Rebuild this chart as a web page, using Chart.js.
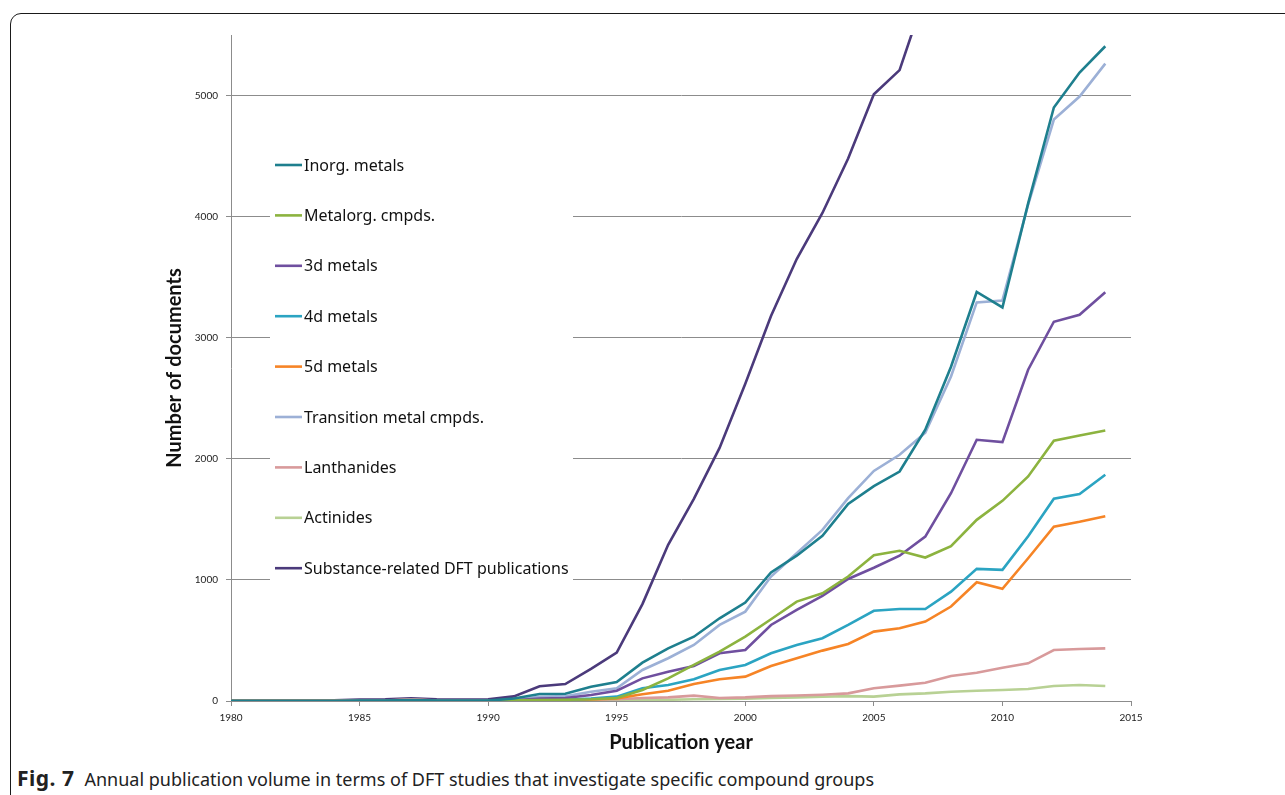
<!DOCTYPE html>
<html>
<head>
<meta charset="utf-8">
<script src="https://cdn.jsdelivr.net/npm/chart.js@4.4.1/dist/chart.umd.min.js"></script>
<style>
  html, body { margin: 0; padding: 0; background: #fff; }
  body { width: 1285px; height: 795px; position: relative; overflow: hidden; }
  #frame {
    position: absolute; left: 10px; top: 13px; width: 1320px; height: 820px;
    border: 1px solid #1a1a1a; border-radius: 11px; box-sizing: border-box;
  }
  #wrap { position: absolute; left: 0; top: 0; width: 1285px; height: 760px; }
  #caption {
    position: absolute; left: 17px; top: 764px; font-family: "Noto Sans", sans-serif;
    font-size: 18px; color: #222; white-space: nowrap;
  }
  #caption b { font-weight: bold; font-size: 21px; margin-right: 10px; letter-spacing: 0.5px; }
</style>
</head>
<body>
<div id="frame"></div>
<div id="wrap"><canvas id="chart"></canvas></div>
<div id="caption"><b>Fig. 7</b>Annual publication volume in terms of DFT studies that investigate specific compound groups</div>
<script>
// publication years 1980..2014
const years = [1980, 1981, 1982, 1983, 1984, 1985, 1986, 1987, 1988, 1989,
  1990, 1991, 1992, 1993, 1994, 1995, 1996, 1997, 1998, 1999,
  2000, 2001, 2002, 2003, 2004, 2005, 2006, 2007, 2008, 2009,
  2010, 2011, 2012, 2013, 2014];

const inorgMetals = [0, 0, 0, 0, 0, 3, 3, 8, 3, 3,
  3, 20, 58, 60, 118, 157, 317, 435, 531, 683,
  813, 1061, 1200, 1364, 1628, 1775, 1895, 2240, 2760, 3378,
  3250, 4110, 4901, 5190, 5407];
const metalorgCmpds = [0, 0, 0, 0, 0, 0, 0, 5, 0, 0,
  0, 5, 8, 10, 15, 25, 91, 187, 298, 408,
  532, 675, 821, 890, 1028, 1204, 1241, 1185, 1278, 1496,
  1653, 1854, 2149, 2193, 2234];
const metals3d = [0, 0, 0, 0, 0, 2, 2, 5, 2, 2,
  2, 5, 20, 25, 50, 85, 187, 242, 289, 394,
  421, 628, 752, 868, 1008, 1100, 1200, 1358, 1716, 2157,
  2138, 2736, 3132, 3190, 3375];
const metals4d = [0, 0, 0, 0, 0, 0, 0, 2, 0, 0,
  0, 3, 8, 10, 20, 36, 105, 132, 179, 256,
  298, 394, 463, 518, 628, 745, 760, 760, 903, 1091,
  1083, 1360, 1670, 1710, 1868];
const metals5d = [0, 0, 0, 0, 0, 0, 0, 2, 0, 0,
  0, 2, 5, 6, 12, 22, 55, 85, 140, 179,
  201, 289, 353, 416, 471, 573, 600, 656, 780, 981,
  926, 1179, 1440, 1480, 1525];
const transitionCmpds = [0, 0, 0, 0, 0, 2, 2, 6, 2, 2,
  2, 10, 35, 40, 77, 105, 256, 353, 463, 628,
  738, 1028, 1220, 1413, 1675, 1900, 2033, 2215, 2680, 3292,
  3308, 4100, 4802, 4992, 5264];
const lanthanides = [0, 0, 0, 0, 0, 2, 3, 15, 4, 3,
  3, 5, 8, 10, 12, 15, 25, 30, 44, 25,
  30, 40, 45, 52, 63, 105, 127, 151, 207, 234,
  275, 311, 421, 430, 435];
const actinides = [0, 0, 0, 0, 0, 2, 3, 10, 3, 2,
  2, 3, 4, 4, 5, 5, 8, 10, 14, 16,
  20, 25, 30, 35, 40, 36, 55, 63, 77, 85,
  91, 99, 124, 132, 124];
// later years run off the top of the plot
const substanceDFT = [5, 5, 5, 5, 5, 12, 14, 22, 14, 12,
  14, 38, 122, 140, 265, 400, 800, 1290, 1670, 2090,
  2620, 3180, 3650, 4030, 4480, 5010, 5210, 5840, 6500, 7100,
  7300, 7900, 8600, 8900, 9300];

const seriesNames = ['Inorg. metals', 'Metalorg. cmpds.', '3d metals', '4d metals', '5d metals',
  'Transition metal cmpds.', 'Lanthanides', 'Actinides', 'Substance-related DFT publications'];
const seriesValues = [inorgMetals, metalorgCmpds, metals3d, metals4d, metals5d,
  transitionCmpds, lanthanides, actinides, substanceDFT];
const seriesColors = ['#1e7f8e', '#8cb33f', '#6f4f9f', '#2ba4c2', '#f68426',
  '#9cb0d6', '#d89a9b', '#b8d194', '#4b3a7b'];

const yTicks = [0, 1000, 2000, 3000, 4000, 5000];
const xTicks = [1980, 1985, 1990, 1995, 2000, 2005, 2010, 2015];

const datasets = seriesNames.map((name, i) => ({
  label: name,
  data: years.map((yr, j) => ({ x: yr, y: seriesValues[i][j] })),
  borderColor: seriesColors[i],
  backgroundColor: seriesColors[i],
  borderWidth: 2.6,
  pointRadius: 0,
  tension: 0,
  fill: false
}));

// legend sits inside the plot on a white box, like the original
const insideLegend = {
  id: 'insideLegend',
  beforeDatasetsDraw(chart) {
    const ctx = chart.ctx;
    ctx.save();
    ctx.fillStyle = '#fff';
    ctx.fillRect(270, 125, 303, 475);
    ctx.font = '16px "Noto Sans", sans-serif';
    ctx.textBaseline = 'middle';
    chart.data.datasets.forEach((ds, i) => {
      const y = 165 + i * 50.4;
      ctx.strokeStyle = ds.borderColor;
      ctx.lineWidth = 2.6;
      ctx.beginPath();
      ctx.moveTo(275, y);
      ctx.lineTo(302, y);
      ctx.stroke();
      ctx.fillStyle = '#111';
      ctx.fillText(ds.label, 304, y + 1);
    });
    ctx.restore();
  }
};

new Chart(document.getElementById('chart').getContext('2d'), {
  type: 'line',
  data: { datasets: datasets },
  options: {
    responsive: true,
    maintainAspectRatio: false,
    animation: false,
    layout: { padding: { top: 35, right: 154, left: 0, bottom: 0 } },
    plugins: {
      legend: { display: false },
      tooltip: { enabled: false }
    },
    scales: {
      x: {
        type: 'linear',
        min: 1980,
        max: 2015,
        afterBuildTicks: (s) => { s.ticks = xTicks.map(v => ({ value: v })); },
        afterFit: (s) => { s.height = 59; },
        ticks: {
          font: { family: 'Lato', size: 10 },
          color: '#222',
          padding: 6,
          maxRotation: 0,
          callback: (v) => String(v)
        },
        grid: { drawOnChartArea: false, drawTicks: true, tickLength: 5, color: '#8c8c8c' },
        border: { color: '#8c8c8c', width: 1 },
        title: {
          display: true,
          text: 'Publication year',
          font: { family: 'Lato', size: 20, weight: 'bold' },
          color: '#111',
          padding: { top: 0, bottom: 5 }
        }
      },
      y: {
        min: 0,
        max: 5500,
        afterBuildTicks: (s) => { s.ticks = yTicks.map(v => ({ value: v })); },
        afterFit: (s) => { s.width = 231; },
        ticks: {
          font: { family: 'Lato', size: 10 },
          color: '#222',
          padding: 8,
          callback: (v) => String(v)
        },
        grid: { color: '#8c8c8c', lineWidth: 1, tickLength: 5 },
        border: { color: '#8c8c8c', width: 1 },
        title: {
          display: true,
          text: 'Number of documents',
          font: { family: 'Lato', size: 20, weight: 'bold' },
          color: '#111',
          padding: { top: 163, bottom: 0 }
        }
      }
    }
  },
  plugins: [insideLegend]
});
</script>
</body>
</html>
